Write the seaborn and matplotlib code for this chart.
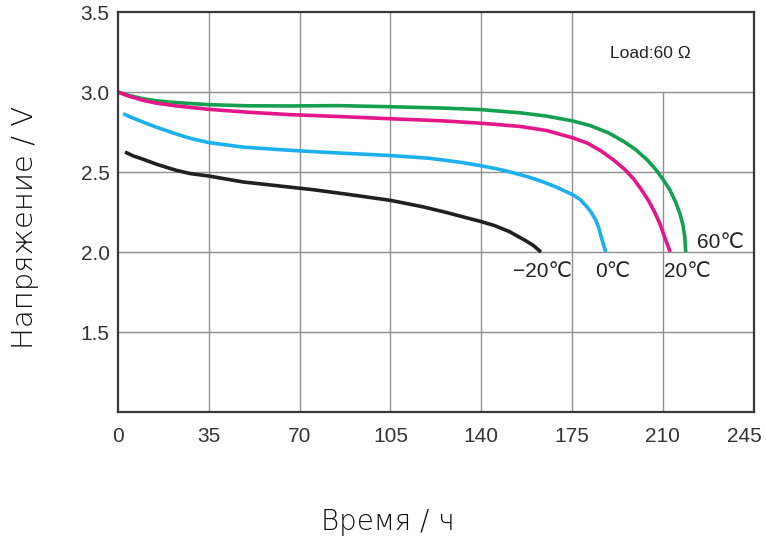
import matplotlib
matplotlib.use('Agg')
import pandas as pd
import seaborn as sns
import matplotlib.pyplot as plt
from matplotlib.transforms import ScaledTranslation

# данные (время, ч / напряжение, В)
t_60 = [0, 4, 9.7, 15, 22.6, 35, 50, 66, 85, 105, 125, 140, 155, 165, 175, 182, 189, 195, 199.5,
        204, 207.3, 210, 212.6, 214.7, 216.5, 217.7, 218.4, 218.8]
v_60 = [3.0, 2.98, 2.958, 2.945, 2.934, 2.921, 2.914, 2.913, 2.915, 2.908, 2.9, 2.89, 2.87, 2.85, 2.82,
        2.79, 2.745, 2.69, 2.64, 2.575, 2.515, 2.455, 2.39, 2.32, 2.243, 2.17, 2.096, 2.0]

t_20 = [0, 4, 9.7, 15, 22.6, 35, 50, 66, 85, 105, 125, 140, 155, 165, 175, 181, 186.3, 191, 195.3,
        198.8, 201.7, 204.5, 207, 209, 210.6, 212, 212.8]
v_20 = [3.0, 2.975, 2.948, 2.93, 2.913, 2.892, 2.874, 2.859, 2.847, 2.833, 2.82, 2.805, 2.785, 2.76, 2.715,
        2.68, 2.63, 2.575, 2.516, 2.455, 2.39, 2.32, 2.243, 2.17, 2.096, 2.035, 2.0]

t_0 = [2, 5, 9.7, 15, 22.6, 28, 35, 48.2, 66, 85, 105, 120, 131.5, 140, 146, 152, 158, 163.6, 169,
       175, 178, 180.3, 182.3, 184.1, 185.3, 186.3, 187.2, 188]
v_0 = [2.865, 2.842, 2.812, 2.779, 2.737, 2.71, 2.684, 2.656, 2.636, 2.619, 2.603, 2.586, 2.562, 2.539,
       2.52, 2.497, 2.47, 2.44, 2.405, 2.36, 2.33, 2.29, 2.25, 2.2, 2.15, 2.09, 2.04, 2.0]

t_m20 = [2.7, 6, 9.7, 15, 22.6, 28, 35, 48.2, 66, 75, 88, 105, 117.4, 126.4, 131.5, 140, 145, 150.8,
         157.2, 160, 163]
v_m20 = [2.625, 2.6, 2.58, 2.548, 2.51, 2.49, 2.475, 2.438, 2.406, 2.39, 2.362, 2.323, 2.283, 2.248,
         2.226, 2.19, 2.166, 2.128, 2.07, 2.042, 2.0]

series_names = ['60℃', '20℃', '0℃', '−20℃']
colors = ['#14a04f', '#e5168a', '#1cb0ec', '#231f20']
label_pos = {'60℃': (232, 2.06), '20℃': (219.3, 1.88), '0℃': (190.8, 1.88), '−20℃': (163.5, 1.88)}

x_ticks = [0, 35, 70, 105, 140, 175, 210, 245]
y_ticks = [1.5, 2.0, 2.5, 3.0, 3.5]

rows = []
for name, tt, vv in zip(series_names, [t_60, t_20, t_0, t_m20], [v_60, v_20, v_0, v_m20]):
    for a, b in zip(tt, vv):
        rows.append({'t': a, 'v': b, 'temp': name})
df = pd.DataFrame(rows)

sns.set_style('white')
plt.rcParams['font.family'] = ['Liberation Sans', 'DejaVu Sans']

fig = plt.figure(figsize=(7.66, 5.40), dpi=100)
ax = fig.add_axes([0.154, 0.237, 0.830, 0.7407])

# сетка (линия 210 только ниже 3.0)
for x in x_ticks[1:-1]:
    top = 3.0 if x == 210 else 3.5
    ax.vlines(x, 1.0, top, color='#8f8f8f', lw=1.0, zorder=0)
for y in y_ticks[:-1]:
    ax.hlines(y, 0, 245, color='#8f8f8f', lw=1.0, zorder=0)

sns.lineplot(data=df, x='t', y='v', hue='temp', palette=dict(zip(series_names, colors)),
             sort=False, estimator=None, lw=2.6, legend=False, ax=ax,
             solid_joinstyle='round', solid_capstyle='butt')

for name in series_names:
    x, y = label_pos[name]
    ax.text(x, y, name, ha='center', va='center', fontsize=15, color='#222222')

ax.text(205, 3.242, 'Load:60 Ω', ha='center', va='center', fontsize=12.5, color='#222222')

ax.set_xlim(0, 245)
ax.set_ylim(1.0, 3.5)
ax.set_xticks(x_ticks)
ax.set_yticks(y_ticks)
ax.tick_params(axis='x', length=0, labelsize=15, colors='#333333', pad=11)
ax.tick_params(axis='y', length=0, labelsize=15, colors='#333333', pad=6)
lab = ax.get_xticklabels()[-1]
lab.set_transform(lab.get_transform() + ScaledTranslation(-0.09, 0, fig.dpi_scale_trans))
ax.set_xlabel('')
ax.set_ylabel('')
for s in ax.spines.values():
    s.set_color('#3a3a3a')
    s.set_linewidth(1.6)

fig.text(0.033, 0.578, 'Напряжение / V', rotation=90, ha='center', va='center',
         fontsize=21, color='#111111', family=['DejaVu Sans'], fontweight='light')
fig.text(0.506, 0.033, 'Время / ч', ha='center', va='center',
         fontsize=20, color='#111111', family=['DejaVu Sans'], fontweight='light')

plt.savefig('out.png', dpi=100)
